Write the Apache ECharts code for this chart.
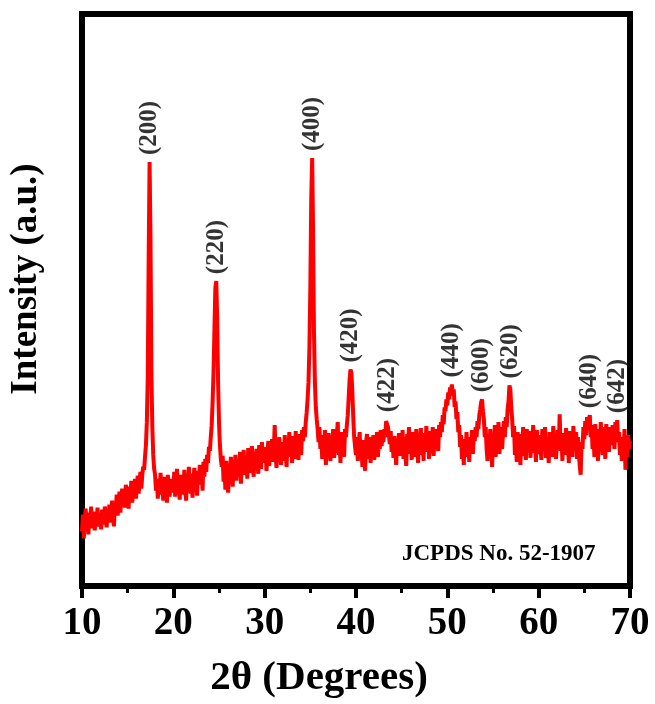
<!DOCTYPE html>
<html>
<head>
<meta charset="utf-8">
<script src="https://cdn.jsdelivr.net/npm/echarts@6/dist/echarts.min.js"></script>
<style>
  html, body { margin: 0; padding: 0; background: #fff; }
  #xrdChart { width: 655px; height: 704px; }
</style>
</head>
<body>
<div id="xrdChart"></div>
<script>
// 2-theta scan, 0.1 degree steps from 10 to 70
var angleStart = 10;
var angleStep = 0.1;

var counts10to20 = [
  55, 72, 48, 66, 78, 60, 70, 52, 74, 63,
  80, 58, 69, 75, 56, 71, 64, 79, 60, 68,
  74, 57, 77, 66, 62, 80, 70, 59, 75, 68,
  82, 64, 73, 86, 69, 60, 84, 77, 92, 71,
  80, 95, 74, 88, 98, 81, 90, 79, 102, 86,
  94, 78, 100, 89, 106, 84, 97, 92, 108, 88,
  99, 111, 93, 104, 115, 98, 112, 120, 117, 130,
  142, 165, 210, 330, 427, 350, 215, 160, 132, 118,
  112, 96, 108, 88, 104, 92, 114, 95, 101, 86,
  110, 93, 104, 84, 112, 97, 90, 108, 94, 103
];
var counts20to30 = [
  98, 115, 90, 106, 118, 95, 103, 87, 112, 99,
  108, 92, 117, 101, 86, 111, 96, 120, 104, 93,
  113, 89, 107, 119, 97, 110, 91, 116, 102, 122,
  105, 118, 96, 125, 110, 128, 115, 132, 124, 140,
  136, 150, 162, 185, 215, 258, 300, 307, 270, 205,
  165, 142, 128, 120, 131, 105, 118, 97, 126, 110,
  94, 121, 108, 130, 113, 100, 125, 117, 132, 106,
  122, 128, 111, 135, 103, 126, 118, 137, 112, 124,
  131, 108, 139, 120, 127, 114, 141, 123, 110, 134,
  119, 138, 126, 113, 142, 129, 118, 145, 124, 136
];
var counts30to40 = [
  127, 140, 116, 133, 146, 121, 138, 129, 148, 125,
  137, 162, 131, 119, 143, 128, 150, 134, 122, 145,
  139, 126, 152, 133, 120, 147, 136, 155, 130, 142,
  124, 151, 138, 128, 156, 135, 145, 127, 153, 140,
  132, 157, 146, 160, 150, 165, 175, 188, 205, 240,
  300, 390, 431, 360, 255, 205, 180, 168, 158, 145,
  160, 138, 152, 128, 148, 135, 157, 122, 145, 131,
  154, 140, 126, 150, 137, 158, 129, 147, 134, 152,
  165, 132, 149, 124, 155, 138, 146, 130, 158, 150,
  162, 172, 190, 208, 218, 215, 195, 170, 150, 140
];
var counts40to50 = [
  132, 150, 126, 143, 155, 129, 141, 120, 147, 135,
  116, 144, 153, 128, 139, 150, 124, 146, 133, 152,
  127, 142, 136, 155, 130, 148, 138, 157, 141, 150,
  145, 158, 150, 166, 168, 160, 152, 143, 156, 135,
  148, 129, 151, 140, 122, 145, 136, 154, 131, 147,
  139, 157, 128, 150, 134, 121, 153, 141, 160, 133,
  146, 127, 155, 138, 149, 130, 158, 142, 124, 152,
  137, 159, 132, 148, 126, 154, 140, 161, 135, 150,
  128, 156, 143, 134, 160, 131, 152, 139, 158, 145,
  136, 162, 150, 165, 155, 172, 163, 180, 176, 188
];
var counts50to60 = [
  182, 195, 188, 200, 196, 203, 192, 198, 180, 186,
  168, 175, 155, 162, 140, 152, 128, 145, 122, 148,
  136, 155, 130, 143, 125, 150, 138, 157, 133, 152,
  146, 160, 150, 166, 158, 172, 178, 185, 188, 176,
  168, 150, 160, 138, 126, 152, 134, 158, 141, 120,
  148, 136, 162, 130, 154, 142, 165, 133, 150, 160,
  138, 155, 166, 150, 170, 160, 178, 186, 202, 198,
  180, 168, 150, 161, 132, 148, 125, 155, 139, 146,
  122, 153, 140, 160, 131, 149, 127, 158, 143, 135,
  156, 129, 150, 138, 162, 134, 147, 125, 157, 141
];
var counts60to70 = [
  133, 152, 140, 127, 158, 144, 136, 160, 129, 150,
  142, 124, 155, 137, 148, 130, 161, 139, 152, 128,
  146, 157, 140, 173, 136, 150, 126, 154, 141, 132,
  159, 135, 147, 124, 156, 140, 152, 130, 161, 143,
  137, 155, 128, 150, 134, 121, 112, 145, 138, 160,
  148, 166, 152, 170, 158, 168, 172, 150, 162, 138,
  155, 130, 163, 142, 150, 126, 158, 137, 165, 145,
  132, 160, 148, 128, 163, 140, 155, 135, 160, 150,
  142, 162, 153, 138, 165, 158, 167, 145, 155, 132,
  150, 126, 148, 137, 158, 117, 145, 130, 152, 138,
  146
];

// reflections (hkl) and where their labels sit
var peakLabels = ['(200)', '(220)', '(400)', '(420)', '(422)', '(440)', '(600)', '(620)', '(640)', '(642)'];
var peakAngles = [17.45, 24.7, 35.2, 39.45, 43.4, 50.5, 53.8, 56.9, 65.6, 68.6];
var peakTops = [427, 307, 431, 218, 168, 203, 188, 202, 172, 167];

var xTicks = [10, 20, 30, 40, 50, 60, 70];

function renderXrdChart(chartID) {
  var echarts = window.echarts;
  var chartDom = document.getElementById(chartID);
  var myChart = echarts.init(chartDom);
  var serif = '"Liberation Serif", "Times New Roman", serif';

  var counts = [].concat(counts10to20, counts20to30, counts30to40,
    counts40to50, counts50to60, counts60to70);
  var scan = counts.map(function (c, i) {
    return [+(angleStart + i * angleStep).toFixed(1), c];
  });
  var labelPoints = peakLabels.map(function (name, i) {
    return { name: name, value: [peakAngles[i], peakTops[i]] };
  });

  var option = {
    animation: false,
    grid: {
      left: 82,
      right: 25,
      top: 14,
      bottom: 114,
      show: true,
      borderColor: '#000',
      borderWidth: 6,
      backgroundColor: 'transparent'
    },
    xAxis: {
      type: 'value',
      min: xTicks[0],
      max: xTicks[xTicks.length - 1],
      interval: 10,
      name: '2θ (Degrees)',
      nameLocation: 'middle',
      nameGap: 72,
      nameTextStyle: {
        fontFamily: serif,
        fontWeight: 'bold',
        fontSize: 41,
        color: '#000',
        padding: [0, 74, 0, 0]
      },
      axisLine: { show: false },
      axisTick: { show: true, inside: false, length: 12, lineStyle: { color: '#000', width: 4 } },
      minorTick: { show: true, splitNumber: 2, length: 7, lineStyle: { color: '#000', width: 3 } },
      splitLine: { show: false },
      axisLabel: {
        margin: 18,
        fontFamily: serif,
        fontWeight: 'bold',
        fontSize: 39,
        color: '#000'
      }
    },
    yAxis: {
      type: 'value',
      min: 0,
      max: 576,
      name: 'Intensity (a.u.)',
      nameLocation: 'middle',
      nameGap: 37,
      nameTextStyle: {
        fontFamily: serif,
        fontWeight: 'bold',
        fontSize: 37,
        color: '#000',
        padding: [0, 0, 0, 42]
      },
      axisLine: { show: false },
      axisTick: { show: false },
      axisLabel: { show: false },
      splitLine: { show: false }
    },
    graphic: [
      {
        type: 'text',
        left: 402,
        top: 543,
        style: {
          text: 'JCPDS No. 52-1907',
          fontFamily: serif,
          fontWeight: 'bold',
          fontSize: 23,
          fill: '#000'
        }
      }
    ],
    series: [
      {
        name: 'XRD',
        type: 'line',
        data: scan,
        showSymbol: false,
        lineStyle: { color: '#ff0000', width: 4 },
        itemStyle: { color: '#ff0000' }
      },
      {
        name: 'hkl',
        type: 'scatter',
        data: labelPoints,
        symbolSize: 0,
        silent: true,
        label: {
          show: true,
          formatter: '{b}',
          position: 'top',
          distance: 4,
          rotate: 90,
          align: 'left',
          verticalAlign: 'middle',
          offset: [3, 0],
          fontFamily: serif,
          fontWeight: 'bold',
          fontSize: 25,
          color: '#000',
          textBorderWidth: 0
        }
      }
    ]
  };

  option && myChart.setOption(option);
}

renderXrdChart('xrdChart');
</script>
</body>
</html>
